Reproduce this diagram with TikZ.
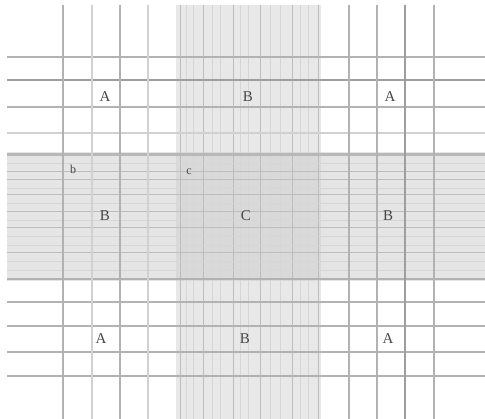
\documentclass[tikz,border=0pt]{standalone}
\usepackage{fontspec}
\setmainfont{Liberation Serif}
\begin{document}
\begin{tikzpicture}[x=1pt,y=-1pt,
  gridline/.style={draw=black!30,line width=1.8pt},
  lightline/.style={draw=black!18,line width=1.6pt},
  darkline/.style={draw=black!38,line width=2pt},
  fineline/.style={draw=black!16,line width=0.8pt},
  finedark/.style={draw=black!26,line width=1pt},
  lab/.style={text=black!72,font=\fontsize{15}{15}\selectfont,inner sep=0pt},
  smalllab/.style={text=black!72,font=\fontsize{12}{12}\selectfont,inner sep=0pt}]
\useasboundingbox (0,0) rectangle (485,419);
\fill[white] (0,0) rectangle (485,419);
% bands
\fill[black!9] (176,5) rectangle (321,419);
\fill[black!10] (7,152) rectangle (485,281);
\fill[black!15] (176,152) rectangle (321,281);
% fine lines in vertical band
\foreach \x/\s in {180/finedark,186/fineline,193/fineline,203/finedark,212/fineline,220/fineline,233/finedark,240/fineline,248/fineline,260/finedark,270/fineline,280/fineline,292/finedark,300/fineline,308/fineline,318/finedark}
  \draw[\s] (\x,5) -- (\x,419);
% fine lines in horizontal band
\foreach \y/\s in {163/fineline,172/finedark,180/finedark,188/fineline,195/finedark,203/fineline,212/finedark,220/fineline,228/finedark,236/fineline,245/fineline,253/finedark,261/fineline,270/fineline}
  \draw[\s] (7,\y) -- (485,\y);
\draw[draw=black!28,line width=3pt] (7,155) -- (485,155);
\draw[draw=black!30,line width=2pt] (7,279) -- (485,279);
% horizontal grid lines
\foreach \y/\s in {57/gridline,80/darkline,107/gridline,133/lightline,302/gridline,326/gridline,352/gridline,376/gridline}
  \draw[\s] (7,\y) -- (485,\y);
% vertical grid lines
\foreach \x/\s in {63/gridline,92/lightline,120/gridline,148/lightline,349/gridline,377/gridline,405/darkline,434/gridline}
  \draw[\s] (\x,5) -- (\x,419);
% labels
\node[lab] (a1) at (105,97) {A};
\node[lab] (b1) at (248,97) {B};
\node[lab] (a2) at (390,97) {A};
\node[smalllab] (sb) at (73,169) {b};
\node[smalllab] (sc) at (189,172) {c};
\node[lab] (b2) at (105,216) {B};
\node[lab] (c1) at (246,216) {C};
\node[lab] (b3) at (388,216) {B};
\node[lab] (a3) at (101,339) {A};
\node[lab] (b4) at (245,339) {B};
\node[lab] (a4) at (388,339) {A};
\end{tikzpicture}
\end{document}
